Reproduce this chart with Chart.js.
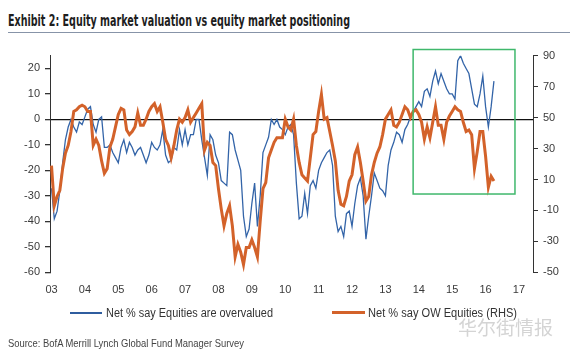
<!DOCTYPE html>
<html>
<head>
<meta charset="utf-8">
<script src="https://cdn.jsdelivr.net/npm/chart.js@4"></script>
<style>
  body { margin: 0; width: 575px; height: 352px; position: relative; background: #fff; overflow: hidden; font-family: "Liberation Sans", Arial, sans-serif; }
  #wrap { position: absolute; left: 0; top: 0; width: 575px; height: 352px; }
  .txt { position: absolute; white-space: nowrap; display: inline-block; transform-origin: 0 50%; }
  #title { left: 8px; top: 12px; font-family: "Liberation Sans Narrow", "DejaVu Sans Condensed", sans-serif; font-weight: bold; font-size: 15px; color: #1e1e1e; }
  #rule { position: absolute; left: 8px; top: 32px; width: 562px; height: 1px; background: #8794a8; }
  .leg { font-size: 12px; color: #333; top: 306px; }
  .swatch { position: absolute; }
  #source { left: 8px; top: 337px; font-size: 11px; color: #444; }
  #mark { left: 458px; top: 313px; font-size: 19px; color: #d4d4d4; font-family: "Noto Sans CJK SC", sans-serif; }
</style>
</head>
<body>
<div id="title" class="txt">Exhibit 2: Equity market valuation vs equity market positioning</div>
<div id="rule"></div>
<div id="wrap"><canvas id="chart"></canvas></div>
<div class="swatch" style="left:70px;top:312px;width:32px;height:1.5px;background:#2f5d9f"></div>
<div id="leg1" class="txt leg" style="left:106px">Net % say Equities are overvalued</div>
<div class="swatch" style="left:332px;top:311px;width:33px;height:3px;background:#d3622a"></div>
<div id="leg2" class="txt leg" style="left:368px">Net % say OW Equities (RHS)</div>
<div id="mark" class="txt">华尔街情报</div>
<div id="source" class="txt">Source: BofA Merrill Lynch Global Fund Manager Survey</div>
<script>
// monthly survey readings, Jan 2003 onwards
const startYear = 2003;
const overvalued = [
  -27, -39, -36, -28, -17, -8, -3, 0, -3, -5, -1, -2,
  1, 4, 5, -2, -5, 0, 1, -11, -11, -10, -13, -15,
  -17, -11, -8, -13, -9, -11, -14, -12, -11, -14, -17, -14,
  -9, -11, -12, -10, -4, -14, -17, -16, -11, -12, -4, -10,
  -4, -10, -6, -6, 0, 0, -8, -15, -22, -6, -8, -14,
  -17, -24, -25, -26, -5, -6, -12, -16, -20, -38, -46, -43,
  -33, -25, -42, -30, -13, -10, -7, 0, -2, 0, -3, -4,
  -6, -3, -2, -6, -25, -39, -38, -29, -37, -26, -24, -27,
  -20, -17, -15, -13, -12, -18, -38, -44, -42, -46, -37, -36,
  -42, -33, -26, -23, -30, -47, -38, -30, -21, -24, -27, -28,
  -30, -18, -12, -9, -5, -6, -9, -4, -2, 1, 3, 5,
  7, 5, 11, 12, 9, 15, 19, 14, 18, 15, 12, 10,
  10, 8, 23, 25, 22, 20, 18, 12, 6, 5, 10, 17,
  5, -3, 5, 15
];
const owEquities = [
  19, -7, -1, 3, 17, 27, 32, 41, 54, 55, 57, 58,
  57, 54, 54, 32, 36, 32, 22, 14, 17, 31, 36, 44,
  52, 56, 55, 42, 39, 41, 44, 53, 45, 45, 49, 54,
  57, 59, 54, 57, 47, 36, 32, 24, 32, 42, 49, 47,
  50, 55, 47, 50, 53, 56, 59, 29, 34, 32, 21, 19,
  4, -9, -20, -12, -7, -20, -40, -32, -37, -45, -34, -34,
  -29, -34, -40, -17, 4, 8, 24, 29, 34, 37, 37, 37,
  49, 44, 42, 49, 32, 21, 13, 11, 9, 24, 39, 41,
  54, 65, 49, 50, 41, 32, 22, 3, -6, -7, -1, 9,
  13, 26, 31, 21, 9, -4, -1, 13, 21, 27, 31, 39,
  49, 52, 55, 45, 44, 47, 52, 57, 55, 50, 54, 55,
  52, 47, 36, 44, 37, 47, 57, 45, 45, 36, 47, 51,
  54, 57, 55, 54, 47, 41, 42, 39, 17, 28, 41, 41,
  25, 5, 12, 9
];
const tickYears = [2003, 2004, 2005, 2006, 2007, 2008, 2009, 2010, 2011, 2012, 2013, 2014, 2015, 2016, 2017];
const leftTicks = [-60, -50, -40, -30, -20, -10, 0, 10, 20];

// highlighted window (green box), in axis units
const boxYears = [2013.83, 2016.88];
const boxRight = [94, 0.6];

const toPoints = arr => arr.map((v, i) => ({ x: startYear + i / 12, y: v }));

const tickFont = { family: '"Liberation Sans", Arial, sans-serif', size: 11 };

const boxPlugin = {
  id: 'highlightBox',
  afterDatasetsDraw(chart) {
    const { ctx, scales } = chart;
    const x0 = scales.x.getPixelForValue(boxYears[0]);
    const x1 = scales.x.getPixelForValue(boxYears[1]);
    const y0 = scales.y1.getPixelForValue(boxRight[0]);
    const y1 = scales.y1.getPixelForValue(boxRight[1]);
    ctx.save();
    ctx.strokeStyle = '#3fb86c';
    ctx.lineWidth = 1.5;
    ctx.strokeRect(x0, y0, x1 - x0, y1 - y0);
    ctx.restore();
  }
};

new Chart(document.getElementById('chart'), {
  type: 'line',
  data: {
    datasets: [
      {
        label: 'Net % say Equities are overvalued',
        data: toPoints(overvalued),
        borderColor: '#3364a8',
        borderWidth: 1.3,
        pointRadius: 0,
        tension: 0,
        yAxisID: 'y',
        order: 2
      },
      {
        label: 'Net % say OW Equities (RHS)',
        data: toPoints(owEquities),
        borderColor: '#d3622a',
        borderWidth: 3,
        pointRadius: 0,
        tension: 0,
        yAxisID: 'y1',
        order: 1
      }
    ]
  },
  options: {
    responsive: true,
    maintainAspectRatio: false,
    animation: false,
    devicePixelRatio: 1,
    layout: { padding: { top: 55.7, bottom: 49.7, left: 0, right: 0 } },
    plugins: { legend: { display: false }, tooltip: { enabled: false } },
    scales: {
      x: {
        type: 'linear',
        min: 2002.955,
        max: 2017.42,
        afterBuildTicks: s => { s.ticks = tickYears.map(v => ({ value: v })); },
        afterFit: s => { s.height = 30; },
        grid: { display: false, drawTicks: false },
        border: { display: false },
        ticks: {
          padding: 11,
          color: '#3a3a3a',
          font: tickFont,
          maxRotation: 0,
          autoSkip: false,
          callback: v => String(v).slice(2)
        }
      },
      y: {
        position: 'left',
        min: -60,
        max: 25,
        afterBuildTicks: s => { s.ticks = leftTicks.map(v => ({ value: v })); },
        afterFit: s => { s.width = 50; },
        grid: {
          color: c => (c.tick && c.tick.value === 0 ? '#111' : 'rgba(0,0,0,0)'),
          lineWidth: 1.3,
          drawTicks: true,
          tickLength: 5,
          tickColor: '#333'
        },
        border: { display: true, color: '#333', width: 1 },
        ticks: { padding: 5, color: '#3a3a3a', font: tickFont }
      },
      y1: {
        position: 'right',
        min: -50,
        max: 90,
        afterFit: s => { s.width = 42; },
        grid: { drawOnChartArea: false, drawTicks: true, tickLength: 5, tickColor: '#333' },
        border: { display: true, color: '#333', width: 1 },
        ticks: { stepSize: 20, padding: 5, color: '#3a3a3a', font: tickFont }
      }
    }
  },
  plugins: [boxPlugin]
});

// squeeze the condensed-looking texts to the widths seen in the reference
function fitWidth(id, w) {
  const el = document.getElementById(id);
  const r = el.getBoundingClientRect().width;
  el.style.transform = 'scaleX(' + (w / r) + ')';
}
fitWidth('title', 342);
fitWidth('leg1', 167);
fitWidth('leg2', 149);
fitWidth('source', 236);
</script>
</body>
</html>
